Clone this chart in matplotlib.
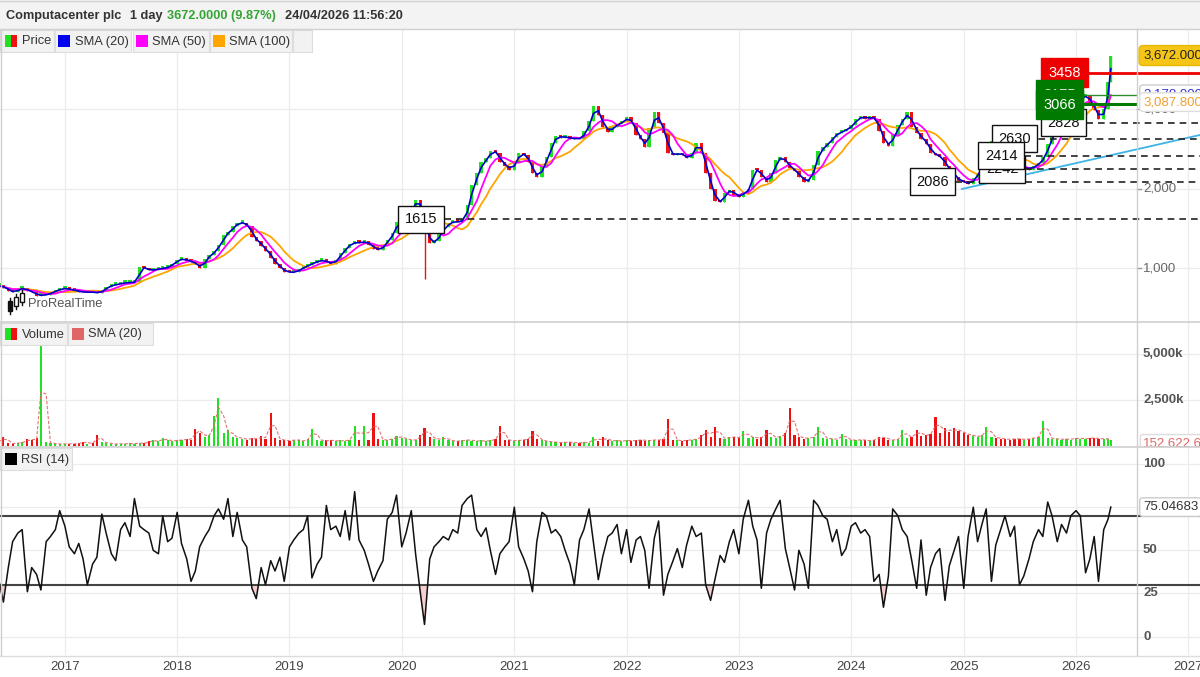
import matplotlib
matplotlib.use('Agg')
import matplotlib.pyplot as plt
import matplotlib.dates as mdates
import matplotlib.transforms as mtransforms
from matplotlib.patches import Rectangle
from matplotlib.lines import Line2D
import numpy as np
import pandas as pd

plt.rcParams['font.family'] = ['Liberation Sans', 'DejaVu Sans']

# ---------------- data (semi-monthly closes) ----------------
closes = [
    780, 760, 720, 700, 745, 750, 720, 700, 660, 668,
    670, 700, 720, 745, 750, 735, 720, 710, 700, 705,
    700, 695, 720, 770, 790, 800, 815, 820, 825, 830,
    1020, 1000, 975, 985, 995, 1005, 1020, 1060, 1110, 1120,
    1095, 1085, 1050, 1010, 1120, 1170, 1220, 1300, 1420, 1460,
    1530, 1570, 1575, 1530, 1400, 1340, 1280, 1220, 1130, 1060,
    1000, 960, 950, 955, 990, 1020, 1040, 1070, 1095, 1100,
    1080, 1060, 1110, 1190, 1260, 1310, 1330, 1320, 1340, 1300,
    1250, 1230, 1290, 1360, 1450, 1580, 1580, 1660, 1760, 1860,
    1760, 1450, 1320, 1340, 1430, 1520, 1570, 1590, 1580, 1610,
    1800, 2050, 2200, 2330, 2380, 2480, 2450, 2330, 2290, 2240,
    2330, 2450, 2420, 2340, 2200, 2150, 2280, 2400, 2580, 2660,
    2640, 2660, 2620, 2640, 2620, 2720, 2850, 3040, 2920, 2780,
    2710, 2780, 2810, 2840, 2900, 2820, 2680, 2620, 2520, 2760,
    2960, 2820, 2700, 2450, 2420, 2450, 2420, 2380, 2450, 2580,
    2450, 2200, 2000, 1850, 1830, 1950, 1990, 1920, 1900, 1960,
    2000, 2240, 2230, 2150, 2080, 2200, 2360, 2400, 2330, 2260,
    2220, 2150, 2090, 2110, 2300, 2470, 2520, 2580, 2650, 2700,
    2720, 2750, 2800, 2870, 2910, 2880, 2900, 2880, 2720, 2580,
    2540, 2680, 2800, 2880, 2960, 2780, 2700, 2620, 2560, 2450,
    2420, 2400, 2280, 2230, 2150, 2100, 2080, 2060, 2130, 2200,
    2320, 2450, 2600, 2500, 2400, 2330, 2290, 2260, 2250, 2270,
    2240, 2290, 2320, 2400, 2560, 2680, 2800, 2860, 2950, 3040,
    3080, 3150, 3170, 3080, 2990, 2870, 3000, 3342, 3672,
]

volumes_k = [
    250, 500, 150, 120, 180, 200, 380, 300, 420, 5450,
    200, 150, 120, 100, 130, 110, 120, 140, 240, 130,
    150, 600, 200, 160, 120, 100, 130, 110, 150, 120,
    180, 140, 260, 300, 250, 420, 300, 250, 350, 300,
    400, 350, 950, 700, 500, 600, 1630, 2590, 700, 870,
    500, 450, 400, 350, 420, 380, 520, 400, 1770, 450,
    350, 300, 280, 350, 300, 250, 400, 920, 350, 280,
    300, 320, 250, 300, 280, 350, 1100, 300, 1100, 350,
    1770, 380, 300, 350, 400, 520, 450, 380, 300, 350,
    600, 960, 500, 400, 350, 480, 300, 280, 250, 300,
    350, 280, 260, 300, 250, 320, 400, 1090, 350, 300,
    280, 320, 350, 400, 820, 400, 300, 250, 220, 200,
    180, 220, 200, 180, 160, 200, 180, 470, 250, 470,
    300, 280, 300, 250, 320, 280, 300, 350, 280, 300,
    350, 300, 400, 1470, 350, 300, 280, 320, 350, 380,
    600, 870, 500, 1050, 450, 400, 480, 500, 420, 830,
    450, 500, 400, 480, 870, 500, 450, 550, 700, 2060,
    600, 480, 400, 450, 500, 1050, 450, 380, 400, 350,
    650, 380, 300, 320, 350, 300, 280, 350, 500, 450,
    350, 300, 400, 870, 450, 500, 870, 550, 600, 650,
    1560, 700, 960, 750, 960, 800, 700, 600, 550, 500,
    600, 1050, 500, 450, 400, 380, 350, 400, 380, 350,
    400, 450, 500, 1380, 450, 400, 380, 350, 400, 350,
    450, 400, 380, 450, 420, 400, 380, 400, 300,
]

rsi_values = [
    32, 20, 40, 55, 60, 62, 26, 40, 36, 27,
    55, 58, 62, 73, 64, 52, 48, 54, 45, 30,
    42, 46, 71, 60, 48, 44, 62, 66, 58, 80,
    64, 62, 60, 50, 48, 70, 55, 57, 72, 54,
    45, 32, 38, 52, 58, 62, 70, 74, 68, 80,
    58, 72, 56, 52, 28, 22, 40, 30, 44, 38,
    46, 32, 52, 56, 60, 62, 70, 34, 42, 46,
    76, 62, 64, 58, 73, 56, 84, 56, 50, 42,
    32, 38, 44, 68, 72, 82, 52, 60, 73, 48,
    26, 7, 45, 52, 55, 58, 56, 62, 60, 76,
    80, 82, 62, 58, 63, 50, 36, 48, 52, 55,
    75, 52, 45, 38, 26, 55, 72, 70, 60, 62,
    58, 50, 42, 30, 56, 62, 74, 55, 33, 46,
    58, 60, 65, 48, 62, 43, 56, 58, 50, 28,
    57, 67, 24, 36, 44, 51, 40, 53, 64, 58,
    60, 30, 21, 33, 47, 43, 55, 62, 48, 68,
    79, 64, 56, 28, 60, 68, 74, 79, 51, 40,
    27, 50, 42, 28, 79, 76, 70, 68, 55, 62,
    47, 51, 64, 66, 60, 62, 58, 32, 36, 17,
    35, 74, 70, 62, 58, 45, 28, 56, 24, 40,
    48, 51, 21, 41, 50, 58, 28, 58, 75, 55,
    65, 74, 32, 53, 62, 70, 58, 64, 30, 35,
    45, 55, 62, 58, 78, 70, 55, 65, 60, 70,
    73, 70, 37, 45, 58, 32, 62, 68, 75.04683,
]

dates = pd.date_range('2016-06-01', '2026-04-15', freq='SMS').append(pd.DatetimeIndex(['2026-04-24']))
n = min(len(dates), len(closes), len(volumes_k), len(rsi_values))
dates = dates[:n]; closes = closes[:n]; volumes_k = volumes_k[:n]; rsi_values = rsi_values[:n]

wick_lows = {'2020-03-15': 873}

year_ticks = list(range(2017, 2028))

# support / resistance levels and their label dates
levels = [1615, 2086, 2242, 2630, 2414, 2828]
level_dates = ['2020-03-03', '2024-09-21', '2025-05-06', '2025-06-15', '2025-05-03', '2025-11-21']
red_level, red_date = 3458, '2025-11-24'
green_levels = [3175, 3066]
green_date = '2025-11-08'
trend_pts = [('2024-12-26', 1997), ('2027-02-08', 2675)]

header_price = '3672.0000 (9.87%)'
header_time = '24/04/2026 11:56:20'
last_labels = {'price': '3,672.000', 'sma20': '3,178.000', 'sma100': '3,087.800',
               'vol_sma': '152,622.6', 'rsi': '75.04683'}

# ---------------- layout helpers ----------------
W, H = 1200, 677
def fx(x): return x / W
def fy(y): return 1 - y / H
def dn(s): return mdates.date2num(pd.Timestamp(s))

GREEN = '#22e022'
RED = '#ee1111'
GRID = '#ececec'

fig = plt.figure(figsize=(12, 6.77), dpi=100)
fig.patch.set_facecolor('white')
ax_p = fig.add_axes([0, fy(322), 1, (322 - 29) / H])
ax_v = fig.add_axes([0, fy(447), 1, (447 - 322) / H], sharex=ax_p)
ax_r = fig.add_axes([0, fy(655), 1, (655 - 447) / H], sharex=ax_p)

xn = mdates.date2num(dates.to_pydatetime())
xmin, xmax = dn('2016-06-04'), dn('2027-02-08')
tick_pos = [dn(f'{y}-01-01') for y in year_ticks]

for ax in (ax_p, ax_v, ax_r):
    for s in ax.spines.values():
        s.set_visible(False)
    ax.set_xlim(xmin, xmax)
    ax.set_axisbelow(True)
    ax.set_xticks(tick_pos)
    ax.grid(True, color=GRID, lw=0.9)
    ax.tick_params(axis='y', left=False, labelleft=False)
    ax.tick_params(axis='x', length=0, labelbottom=False)
ax_r.set_xticklabels([str(y) for y in year_ticks])
ax_r.tick_params(axis='x', labelbottom=True, pad=4, labelsize=9.5, labelcolor='#444')

# ---------------- price panel ----------------
c = np.array(closes, dtype=float)
o = np.concatenate([[c[0]], c[:-1]])
up = c >= o
cols = np.where(up, GREEN, RED)
lo = np.minimum(o, c)
hi = np.maximum(o, c)
for d, v in wick_lows.items():
    k = np.where(dates == pd.Timestamp(d))[0]
    if len(k):
        lo[k[0]] = v
ax_p.vlines(xn, lo, hi, colors=cols, lw=1, zorder=2)
ax_p.bar(xn, np.maximum(np.abs(c - o), 35), bottom=np.minimum(o, c), width=11,
         color=cols, linewidth=0, zorder=2)

s = pd.Series(c)
ax_p.plot(xn, s.rolling(9, min_periods=1).mean(), color='#ffa500', lw=1.3, zorder=3)
ax_p.plot(xn, s.rolling(5, min_periods=1).mean(), color='#ff00ff', lw=1.3, zorder=3)
ax_p.plot(xn, s.rolling(2, min_periods=1).mean(), color='#0000cc', lw=1.2, zorder=3)

ax_p.set_ylim(328, 4005)
ax_p.set_yticks([1000, 2000, 3000])

# trend line
ax_p.plot([dn(trend_pts[0][0]), dn(trend_pts[1][0])], [trend_pts[0][1], trend_pts[1][1]],
          color='#3cb4e6', lw=1.3, zorder=4, clip_on=False)

# dashed levels and boxes
zmap = {2414: 12}
for lv, d in zip(levels, level_dates):
    ax_p.hlines(lv, dn(d), xmax, colors='#222', linestyles=(0, (4, 3)), lw=1.2, zorder=5)
for lv, d in zip(levels, level_dates):
    ax_p.text(dn(d), lv, str(lv), ha='center', va='center', fontsize=10.5, color='#111',
              zorder=zmap.get(lv, 10),
              bbox=dict(boxstyle='square,pad=0.45', fc='white', ec='#111', lw=1.0))

sep_num = xmin + (xmax - xmin) * 1137 / W
ax_p.hlines(red_level, dn(red_date), xmax, colors='#ee0000', lw=2, zorder=6)
ax_p.hlines(green_levels[0], dn(green_date), sep_num, colors='#2e8b2e', lw=1, zorder=6)
ax_p.hlines(green_levels[1], dn(green_date), sep_num, colors='#007a00', lw=2.2, zorder=6)
ax_p.text(dn(red_date), red_level, str(red_level), ha='center', va='center', fontsize=10.5,
          color='white', zorder=13,
          bbox=dict(boxstyle='square,pad=0.5', fc='#ee0000', ec='#ee0000'))
ax_p.text(dn(green_date), green_levels[0] + 5, str(green_levels[0]), ha='center', va='center',
          fontsize=10.5, color='white', zorder=13,
          bbox=dict(boxstyle='square,pad=0.5', fc='#007a00', ec='#007a00'))
ax_p.text(dn(green_date), green_levels[1] - 12, str(green_levels[1]), ha='center', va='center',
          fontsize=10.5, color='white', zorder=14,
          bbox=dict(boxstyle='square,pad=0.5', fc='#007a00', ec='#007a00'))

# right axis labels (price)
tp = mtransforms.blended_transform_factory(fig.transFigure, ax_p.transData)
LX = fx(1143)
for v in (1000, 2000, 3000):
    ax_p.plot([fx(1137), fx(1141)], [v, v], transform=tp, color='#999', lw=1, clip_on=False, zorder=20)
    ax_p.text(LX, v, f'{v:,}', transform=tp, ha='left', va='center', fontsize=9.5,
              color='#666', zorder=20)
ax_p.text(LX, 3185, last_labels['sma20'], transform=tp, ha='left', va='center', fontsize=9.5,
          color='#3333cc', zorder=21,
          bbox=dict(boxstyle='round,pad=0.25', fc='white', ec='#cccccc'))
ax_p.text(LX, 3087.8, last_labels['sma100'], transform=tp, ha='left', va='center', fontsize=9.5,
          color='#f0a030', zorder=22,
          bbox=dict(boxstyle='round,pad=0.25', fc='white', ec='#dddddd'))
ax_p.text(LX, 3672, last_labels['price'], transform=tp, ha='left', va='center', fontsize=9.5,
          color='#222', zorder=22,
          bbox=dict(boxstyle='round,pad=0.3', fc='#f5c518', ec='#e8b800'))

# ---------------- volume panel ----------------
vol = np.array(volumes_k, dtype=float)
ax_v.bar(xn, vol, width=7, color=cols, linewidth=0, zorder=2)
ax_v.plot(xn, pd.Series(vol).rolling(2, min_periods=1).mean(), color='#e06666', lw=0.8,
          ls=(0, (3, 1.5)), zorder=3, alpha=0.9)
ax_v.set_ylim(-54, 6739)
ax_v.set_yticks([2500, 5000])
tv = mtransforms.blended_transform_factory(fig.transFigure, ax_v.transData)
for v, t in ((5000, '5,000k'), (2500, '2,500k')):
    ax_v.text(LX, v, t, transform=tv, ha='left', va='center', fontsize=9.5, color='#555',
              fontweight='bold', zorder=20)
ax_v.text(LX, 152.6, last_labels['vol_sma'], transform=tv, ha='left', va='center', fontsize=9.5,
          color='#e06666', zorder=21,
          bbox=dict(boxstyle='round,pad=0.2', fc='white', ec='#dddddd'))

# ---------------- RSI panel ----------------
r = np.array(rsi_values, dtype=float)
ax_r.fill_between(xn, r, 30, where=r < 30, interpolate=True, color='#f6d0d0', zorder=1)
ax_r.plot(xn, r, color='#111', lw=1.1, zorder=3)
ax_r.axhline(70, color='#444', lw=1.5, zorder=2)
ax_r.axhline(30, color='#444', lw=1.5, zorder=2)
ax_r.set_ylim(-10.7, 109.9)
ax_r.set_yticks([0, 25, 50, 75, 100])
tr = mtransforms.blended_transform_factory(fig.transFigure, ax_r.transData)
for v in (100, 50, 25, 0):
    ax_r.text(LX, v, str(v), transform=tr, ha='left', va='center', fontsize=9.5, color='#555',
              fontweight='bold', zorder=20)
ax_r.text(LX, 75.05, last_labels['rsi'], transform=tr, ha='left', va='center', fontsize=9.5,
          color='#333', zorder=21,
          bbox=dict(boxstyle='round,pad=0.25', fc='white', ec='#cccccc'))

# ---------------- chrome: header, separators, legends ----------------
def frect(x0, y0, x1, y1, **kw):
    fig.patches.append(Rectangle((fx(x0), fy(y1)), (x1 - x0) / W, (y1 - y0) / H,
                                 transform=fig.transFigure, **kw))

def fline(x0, y0, x1, y1, **kw):
    fig.add_artist(Line2D([fx(x0), fx(x1)], [fy(y0), fy(y1)], transform=fig.transFigure, **kw))

frect(0, 0, 1200, 29, fc='#f3f3f3', ec='none', zorder=30)
fline(0, 0.5, 1200, 0.5, color='#d0d0d0', lw=1, zorder=31)
fline(0, 29, 1200, 29, color='#d0d0d0', lw=1, zorder=31)
fline(0, 322, 1200, 322, color='#cfcfcf', lw=1.2, zorder=31)
fline(0, 447, 1200, 447, color='#cfcfcf', lw=1.2, zorder=31)
fline(0, 655.5, 1200, 655.5, color='#dcdcdc', lw=1, zorder=31)
fline(1137, 29, 1137, 655, color='#d0d0d0', lw=1, zorder=31)
fline(0.5, 29, 0.5, 655, color='#d0d0d0', lw=1, zorder=31)

hy = fy(16)
fig.text(fx(6), hy, 'Computacenter plc', ha='left', va='center', fontsize=9.2,
         fontweight='bold', color='#333', zorder=32)
fig.text(fx(130), hy, '1 day', ha='left', va='center', fontsize=9.2,
         fontweight='bold', color='#333', zorder=32)
fig.text(fx(167), hy, header_price, ha='left', va='center', fontsize=9.2,
         fontweight='bold', color='#35a435', zorder=32)
fig.text(fx(285), hy, header_time, ha='left', va='center', fontsize=9.2,
         fontweight='bold', color='#333', zorder=32)

def legend_row(y0, y1, tabs, items):
    for (a, b) in tabs:
        frect(a, y0, b, y1, fc='#f2f2f2', ec='#dddddd', lw=0.8, zorder=30)
    ym = (y0 + y1) / 2
    for (sx, kind, col, tx, label) in items:
        if kind == 'split':
            frect(sx, ym - 6, sx + 6, ym + 6, fc=GREEN, ec='none', zorder=32)
            frect(sx + 6, ym - 6, sx + 12, ym + 6, fc=RED, ec='none', zorder=32)
        else:
            frect(sx, ym - 6, sx + 12, ym + 6, fc=col, ec='none', zorder=32)
        fig.text(fx(tx), fy(ym + 0.5), label, ha='left', va='center', fontsize=9.3,
                 color='#333', zorder=33)

legend_row(30, 52, [(0, 54), (55, 131), (133, 209), (210, 292), (293, 312)],
           [(5, 'split', None, 22, 'Price'),
            (58, 'solid', '#0000ee', 75, 'SMA (20)'),
            (136, 'solid', '#ff00ff', 152, 'SMA (50)'),
            (213, 'solid', '#ffa500', 229, 'SMA (100)')])
legend_row(323, 345, [(0, 67), (68, 153)],
           [(5, 'split', None, 22, 'Volume'),
            (72, 'solid', '#e06666', 88, 'SMA (20)')])
legend_row(448, 470, [(0, 72)],
           [(5, 'solid', '#000000', 21, 'RSI (14)')])

# ProRealTime watermark
for (cx, top, bot, filled) in ((9.5, 301, 311, True), (15.5, 297, 306, False), (21.5, 293, 302, False)):
    fline(cx, top - 3, cx, bot + 3, color='#111', lw=1, zorder=32)
    frect(cx - 2, top, cx + 2, bot, fc='#111' if filled else 'white', ec='#111', lw=1, zorder=33)
fig.text(fx(28), fy(304), 'ProRealTime', ha='left', va='center', fontsize=9.3, color='#555', zorder=33)

fig.savefig('out.png', dpi=100)
